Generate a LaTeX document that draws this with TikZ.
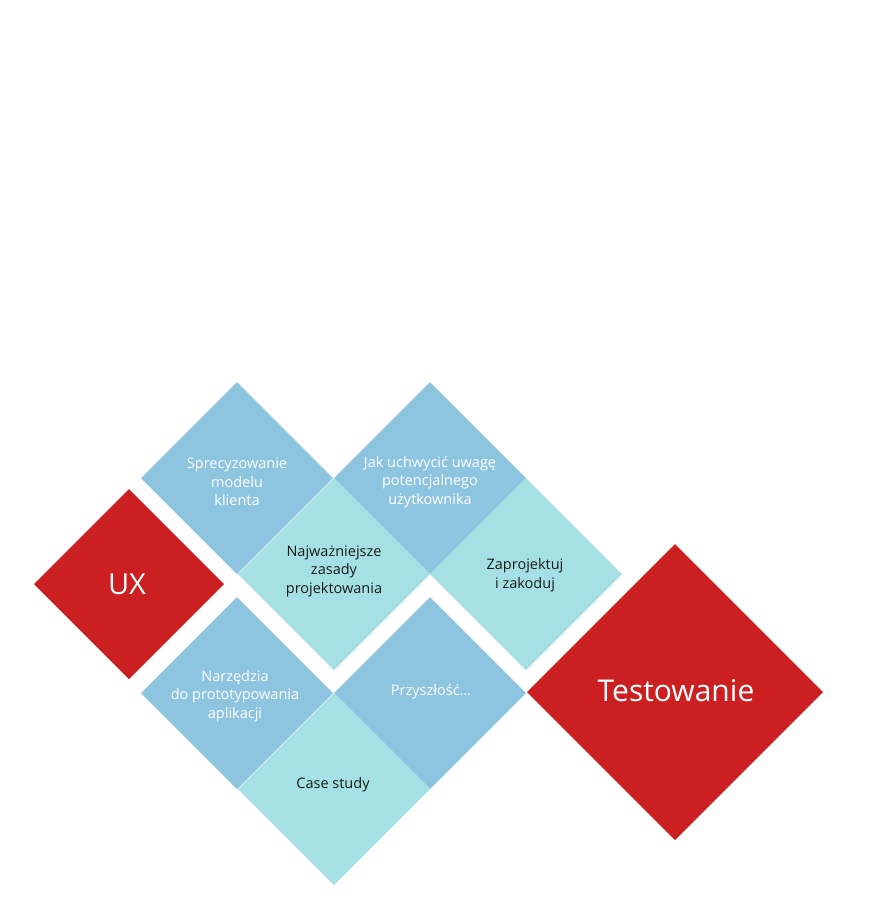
\documentclass[tikz,border=0pt]{standalone}
\usepackage{fontspec}
\setmainfont{Open Sans}
\usepackage{xcolor}
\usepackage{tikz}
\definecolor{uxred}{HTML}{CB1F21}
\definecolor{tileblue}{HTML}{8DC4DF}
\definecolor{tilecyan}{HTML}{A5E1E4}
\definecolor{tiletext}{HTML}{1A1A1A}
\tikzset{
  pics/tile/.default={96},
  pics/tile/.style = {
    code = {
    \fill[pic actions] (-#1,0) -- (0,-#1) -- (#1,0) -- (0,#1) -- cycle;
    }
  },
  lighttext/.style={text=white, align=center, font=\fontsize{14.5}{18.5}\selectfont},
  darktext/.style={text=tiletext, align=center, font=\fontsize{14.5}{18.5}\selectfont}
}

\begin{document}
\begin{tikzpicture}[x=1pt,y=-1pt]
\useasboundingbox (0,0) rectangle (868,900);

 \foreach \x/\y in {237/478, 430/478, 237/693, 430/693}{
       \pic[fill=tileblue] at (\x,\y) {tile};
     }

 \foreach \x/\y in {334/574, 526/574, 334/789}{
       \pic[fill=tilecyan] at (\x,\y) {tile};
     }

 \pic[fill=uxred] at (129,584) {tile=95};
 \pic[fill=uxred] at (675,692) {tile=148};

 % labels
 \node[text=white, font=\fontsize{29}{32}\selectfont] (ux) at (127,584) {UX};
 \node[text=white, font=\fontsize{30}{33}\selectfont] (test) at (676,691) {Testowanie};

 \node[lighttext] (model) at (237,482) {Sprecyzowanie\\modelu\\klienta};
 \node[lighttext] (uwaga) at (430,482) {Jak uchwycić uwagę\\potencjalnego\\użytkownika};
 \node[darktext] (zasady) at (334,571) {Najważniejsze\\zasady\\projektowania};
 \node[darktext] (kod) at (525,575) {Zaprojektuj\\i zakoduj};
 \node[lighttext] (narz) at (235,696) {Narzędzia\\do prototypowania\\aplikacji};
 \node[lighttext] (przysz) at (431,692) {Przyszłość…};
 \node[darktext] (case) at (333,785) {Case study};

\end{tikzpicture}
\end{document}
